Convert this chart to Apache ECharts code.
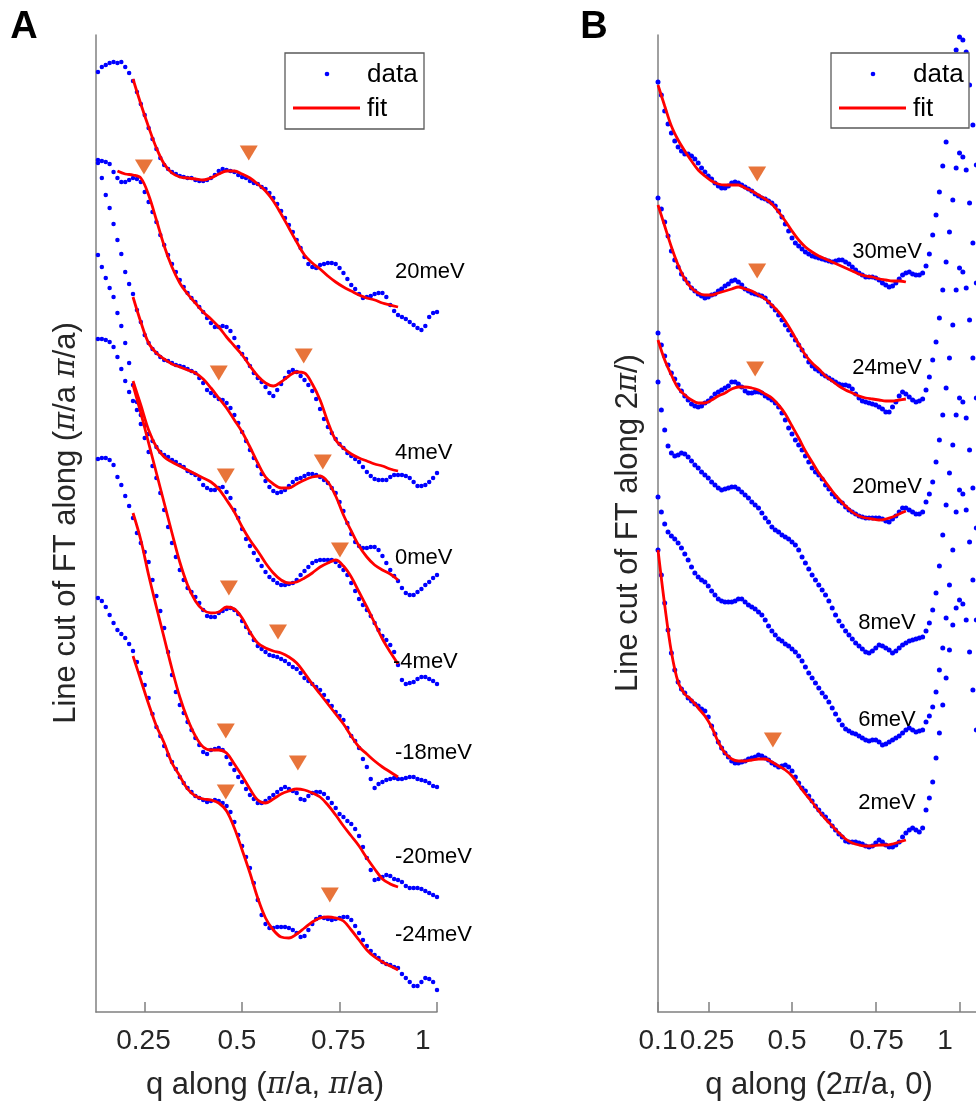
<!DOCTYPE html>
<html>
<head>
<meta charset="utf-8">
<script src="https://cdn.jsdelivr.net/npm/echarts@6/dist/echarts.min.js"></script>
<style>
html, body { margin: 0; padding: 0; background: #fff; }
#chart { width: 976px; height: 1102px; }
</style>
</head>
<body>
<div id="chart"></div>
<script>
// ---- panel A : q along (pi/a, pi/a) ----
var qA = [0.13,0.14,0.15,0.16,0.17,0.18,0.19,0.20,0.21,0.22,0.23,0.24,0.25,0.26,0.27,0.28,0.29,0.30,0.31,0.32,
  0.33,0.34,0.35,0.36,0.37,0.38,0.39,0.40,0.41,0.42,0.43,0.44,0.45,0.46,0.47,0.48,0.49,0.50,0.51,0.52,
  0.53,0.54,0.55,0.56,0.57,0.58,0.59,0.60,0.61,0.62,0.63,0.64,0.65,0.66,0.67,0.68,0.69,0.70,0.71,0.72,
  0.73,0.74,0.75,0.76,0.77,0.78,0.79,0.80,0.81,0.82,0.83,0.84,0.85,0.86,0.87,0.88,0.89,0.90,0.91,0.92,
  0.93,0.94,0.95,0.96,0.97,0.98,0.99,1.00];

var dotA20 = [940,945,947,949,950,949,950,945,939,931, 920,908,897,884,873,863,854,847,843,840,
  838,836,835,834,834,832,831,831,832,834, 837,841,843,842,841,840,837,835,834,831,
  829,828,825,823,819,814,808,801,794,787, 780,772,764,755,748,745,744,747,748,749,
  749,748,744,739,733,727,723,718,714,715, 716,718,719,719,715,707,701,697,695,693,
  690,687,684,682,686,695,699,700];
var dotA4 = [852,851,850,848,840,834,830,830,832,834, 833,830,820,810,800,790,777,767,757,748,
  740,732,725,719,714,710,705,700,694,689, 685,685,686,685,681,674,665,658,653,646,
  639,634,630,625,619,616,622,628,634,640, 642,640,636,632,627,621,613,603,593,585,
  579,573,568,564,559,556,553,550,545,540, 536,533,532,532,532,535,537,537,537,536,
  534,530,526,526,527,530,534,539];
var dotA0 = [849,834,817,804,788,772,758,740,728,718, 702,690,677,669,663,659,655,652,651,649,
  647,646,645,643,641,639,634,629,622,619, 616,613,612,609,604,597,589,580,571,562,
  554,546,538,531,525,521,519,520,522,526, 530,533,534,536,538,538,537,535,532,529,
  524,519,510,501,489,478,470,466,464,464, 465,465,462,456,449,442,436,431,424,419,
  417,417,420,423,427,430,434,437];
var dotAm4 = [757,745,734,724,715,699,686,669,649,627, 610,597,587,578,571,565,560,557,555,552,
  550,547,545,541,539,537,533,527,524,522, 522,524,525,520,514,502,494,483,473,466,
  459,452,446,440,435,432,429,427,427,428, 429,432,437,441,445,449,451,452,452,452,
  452,450,446,442,437,429,421,413,407,402, 396,389,382,376,372,367,360,347,332,328,
  329,330,333,335,335,333,331,328];
var dotAm18 = [673,673,672,670,665,655,643,631,620,611, 602,588,574,560,546,534,519,502,485,469,
  455,442,432,424,420,415,409,402,396,395, 395,399,401,403,404,402,398,391,385,379,
  372,366,363,360,357,356,355,353,351,348, 345,343,339,334,331,328,325,322,317,311,
  306,300,296,292,284,276,271,264,253,245, 233,224,228,230,232,233,234,233,233,234,
  235,235,233,232,231,229,226,225];
var dotAm20 = [553,554,554,552,547,535,527,516,506,494, 479,469,460,450,432,416,401,384,360,337,
  320,307,299,290,282,274,267,260,258,262, 263,264,262,255,248,242,235,230,223,217,
  213,209,209,211,214,217,220,223,225,223, 221,219,213,212,216,219,220,220,218,214,
  209,204,198,195,191,188,183,176,165,154, 142,132,133,135,137,136,133,132,130,126,
  124,124,124,123,121,119,117,115];
var dotAm24 = [414,411,405,397,389,382,378,374,368,361, 350,339,327,314,298,285,276,266,257,250,
  243,235,229,224,220,216,214,212,210,211, 212,211,209,206,200,190,177,166,155,144,
  129,112,97,88,84,84,85,85,85,84, 82,79,75,76,82,88,93,95,94,93,
  92,93,94,95,95,92,86,79,72,66, 61,57,54,50,48,47,45,44,38,34,
  30,26,26,30,34,33,30,22];

var qFitA = [0.16,0.18,0.20,0.22,0.24,0.26,0.28,0.30,0.32,0.34,0.36,0.38,0.40,0.42,0.44,0.46,0.48,0.50,0.52,
  0.54,0.56,0.58,0.60,0.62,0.64,0.66,0.68,0.70,0.72,0.74,0.76,0.78,0.80,0.82,0.84,0.86,0.88,0.90];
var fitA20 = [null,null,null,933,908,885,864,848,839,835,834,833,832,834,838,841,841,838,834,828,821,811,798,
  784,770,757,749,743,736,730,725,721,717,714,712,709,707,705];
var fitA4 = [null,841,838,837,834,817,792,766,745,729,718,709,700,693,685,675,666,657,646,636,629,626,630,
  636,640,639,628,612,590,572,564,558,554,551,548,546,543,541];
var fitA0 = [null,null,null,715,690,669,659,653,648,645,642,639,633,624,614,604,592,580,565,549,535,528,524,
  524,528,532,535,536,530,516,497,481,466,455,447,442,438,432];
var fitAm4 = [null,null,null,631,607,582,565,555,550,546,542,538,534,530,523,512,500,485,472,461,449,439,432,
  429,430,434,439,445,449,452,446,435,420,405,389,373,360,348];
var fitAm18 = [null,null,null,627,599,569,539,509,479,450,427,411,402,399,400,405,403,394,380,369,364,361,359,
  355,349,339,328,318,308,298,288,276,265,258,251,245,240,235];
var fitAm20 = [null,null,null,499,472,437,405,374,343,315,293,276,265,262,262,259,248,236,223,212,209,213,218,
  221,223,222,219,215,207,197,186,176,166,154,143,133,128,125];
var fitAm24 = [null,null,null,356,332,308,286,269,249,236,223,216,213,212,209,201,184,162,139,114,94,82,75,
  74,78,84,90,94,95,94,91,82,72,62,55,50,46,42];

var peakA = [[0.248,845],[0.517,859],[0.658,656],[0.440,639],[0.707,550],[0.458,536],[0.751,462],
  [0.466,424],[0.592,380],[0.458,281],[0.643,249],[0.458,220],[0.725,117]];
var namesA = ['20meV','4meV','0meV','-4meV','-18meV','-20meV','-24meV'];
var ticksA = [0.25, 0.5, 0.75, 1];
var tickTextA = ['0.25','0.5','0.75','1'];

// ---- panel B : q along (2pi/a, 0) ----
var qB = [0.10,0.11,0.12,0.13,0.14,0.15,0.16,0.17,0.18,0.19,0.20,0.21,0.22,0.23,0.24,0.25,0.26,0.27,0.28,0.29,
  0.30,0.31,0.32,0.33,0.34,0.35,0.36,0.37,0.38,0.39,0.40,0.41,0.42,0.43,0.44,0.45,0.46,0.47,0.48,0.49,
  0.50,0.51,0.52,0.53,0.54,0.55,0.56,0.57,0.58,0.59,0.60,0.61,0.62,0.63,0.64,0.65,0.66,0.67,0.68,0.69,
  0.70,0.71,0.72,0.73,0.74,0.75,0.76,0.77,0.78,0.79,0.80,0.81,0.82,0.83,0.84,0.85,0.86,0.87,0.88,0.89,
  0.90,0.91,0.92,0.93,0.94,0.95,0.96,0.97,0.98,0.99,1.00,1.01,1.02,1.03,1.04,1.05];

var dotB30 = [930,917,901,888,879,871,865,861,858,858, 856,853,849,844,840,836,833,829,826,824,
  824,826,829,830,829,827,825,823,821,818, 816,814,813,811,809,806,801,795,788,781,
  774,769,766,763,760,758,756,755,754,753, 752,751,750,751,752,752,750,748,745,742,
  739,737,735,735,735,734,732,729,727,725, 726,729,733,737,739,740,738,737,737,739,
  746,758,777,797,820,846,870,900,930,962, 975,972,960,927,887,847];
var dotB24 = [814,803,790,776,761,752,745,738,733,729, 724,721,718,716,714,715,717,718,721,723,
  726,728,731,732,730,727,723,721,719,718, 717,716,714,710,706,702,697,692,687,682,
  677,672,667,662,656,650,646,643,641,638, 636,634,632,630,628,627,627,626,623,618,
  614,611,610,609,608,607,605,603,600,600, 605,610,616,620,618,615,612,610,611,613,
  622,635,652,670,694,722,750,780,812,844, 859,855,842,809,769,729];
var dotB20 = [679,667,656,647,639,633,627,621,616,612, 608,606,605,606,609,611,614,618,620,622,
  624,626,630,630,628,625,621,619,619,620, 620,619,616,614,612,609,605,599,592,584,
  578,572,567,562,556,550,544,540,537,533, 527,523,518,515,511,509,505,502,500,498,
  496,495,494,494,494,494,494,493,491,490, 493,496,500,504,504,502,500,498,498,500,
  510,518,530,550,572,597,624,654,687,722, 744,740,724,692,654,614];
var dotB8 = [630,602,582,566,559,556,557,559,558,555, 551,547,544,540,537,534,530,527,524,522,
  523,524,525,525,523,520,517,514,510,507, 504,499,494,490,485,482,480,477,475,473,
  470,467,462,455,449,443,437,432,427,422, 417,411,404,397,391,386,381,377,373,369,
  366,363,360,359,361,364,367,366,364,362, 359,361,364,367,369,371,372,373,374,375,
  381,389,402,419,446,477,507,539,567,597, 614,610,594,562,524,484];
var dotB6 = [515,500,488,480,476,473,469,464,458,452, 445,439,435,432,430,426,421,417,413,411,
  410,410,410,411,413,413,410,407,405,403, 400,397,392,386,381,377,373,371,368,366,
  363,360,356,351,345,339,334,329,324,319, 315,310,304,298,292,287,283,281,279,278,
  276,274,272,271,272,272,270,267,268,270, 272,274,276,279,282,284,282,280,281,282,
  290,296,305,320,342,364,394,427,462,500, 522,518,502,470,432,392];
var dotB2 = [462,437,409,382,359,342,330,323,319,314, 311,308,306,303,301,295,286,278,270,264,
  259,255,251,249,249,250,251,253,254,255, 257,256,254,252,249,247,245,246,247,245,
  241,235,229,224,221,216,211,206,202,198, 195,191,186,182,178,175,171,170,170,170,
  169,168,166,165,166,169,172,170,167,165, 165,167,170,175,179,182,184,182,180,184,
  202,214,230,254,279,307,334,362,387,404, 412,408,392,360,322,282];

var qFitB = [0.10,0.12,0.14,0.16,0.18,0.20,0.22,0.24,0.26,0.28,0.30,0.32,0.34,0.36,0.38,0.40,0.42,0.44,0.46,
  0.48,0.50,0.52,0.54,0.56,0.58,0.60,0.62,0.64,0.66,0.68,0.70,0.72,0.74,0.76,0.78,0.80,0.82,0.84];
var fitB30 = [927,906,886,872,861,851,842,836,831,828,827,827,827,824,821,817,813,808,800,791,
  781,772,765,760,756,753,750,747,744,741,738,736,735,733,732,731,731,730];
var fitB24 = [807,786,765,747,733,724,719,717,717,719,721,723,725,723,721,717,713,707,700,691,
  680,668,657,649,643,636,631,626,622,619,616,614,613,612,611,611,612,613];
var fitB20 = [672,652,637,624,617,612,609,609,612,616,619,623,625,625,624,622,618,614,607,598,
  586,574,561,550,539,530,521,513,506,500,496,494,493,492,493,495,498,501];
var fitB2 = [462,407,360,330,318,312,304,296,285,270,259,253,251,251,252,253,253,250,246,242,
  236,227,218,210,201,193,186,179,173,169,167,166,166,167,167,168,170,172];

var peakB = [[0.396,838],[0.396,741],[0.390,643],[0.443,272]];
var namesB = ['30meV','24meV','20meV','8meV','6meV','2meV'];
var ticksB = [0.1, 0.25, 0.5, 0.75, 1];
var tickTextB = ['0.1','0.25','0.5','0.75','1'];

// label anchors (the original figure sets its tick labels a little left of the ticks)
var labelAtA = [0.2468, 0.4865, 0.7468, 0.9635];
var labelAtB = [0.1, 0.2463, 0.4851, 0.7522, 0.9567];

var FONT = '"Liberation Sans", Arial, Helvetica, sans-serif';
var BLUE = '#0000ff', RED = '#ff0000', ORANGE = '#e8743a', AXIS = '#808080', INK = '#262626';

function pairs(qs, ys) {
  var out = [];
  for (var i = 0; i < qs.length; i++) {
    if (ys[i] != null) out.push([qs[i], ys[i]]);
  }
  return out;
}

function tickText(v, at, texts) {
  var best = 0;
  for (var i = 1; i < at.length; i++) {
    if (Math.abs(at[i] - v) < Math.abs(at[best] - v)) best = i;
  }
  return texts[best];
}

function dots(idx, qs, ys, size) {
  return { type: 'scatter', xAxisIndex: idx, yAxisIndex: idx, data: pairs(qs, ys),
    symbolSize: size, itemStyle: { color: BLUE, opacity: 1 }, z: 2, silent: true };
}
function fit(idx, qs, ys) {
  return { type: 'line', xAxisIndex: idx, yAxisIndex: idx, data: pairs(qs, ys), smooth: 0.35,
    showSymbol: false, lineStyle: { color: RED, width: 2.8 }, z: 3, silent: true };
}
function peaks(idx, data) {
  return { type: 'scatter', xAxisIndex: idx, yAxisIndex: idx, data: data, symbol: 'triangle',
    symbolRotate: 180, symbolSize: [18, 15], itemStyle: { color: ORANGE, opacity: 1 }, z: 4, silent: true };
}

function xAxisOf(idx, min, max, ticks, labelAt, texts) {
  return {
    gridIndex: idx, type: 'value', min: min, max: max,
    axisLine: { show: true, onZero: false, lineStyle: { color: AXIS, width: 1.5 } },
    axisTick: { show: true, inside: true, length: 10, customValues: ticks, lineStyle: { color: AXIS, width: 1.5 } },
    axisLabel: { show: true, customValues: labelAt, margin: 15, color: INK, fontSize: 28, fontFamily: FONT,
      formatter: function (v) { return tickText(v, labelAt, texts); } },
    splitLine: { show: false }
  };
}
function yAxisOf(idx) {
  return {
    gridIndex: idx, type: 'value', min: 0, max: 977,
    axisLine: { show: true, onZero: false, lineStyle: { color: AXIS, width: 1.5 } },
    axisTick: { show: false }, axisLabel: { show: false }, splitLine: { show: false }
  };
}

function txt(x, y, text, size, opts) {
  opts = opts || {};
  return {
    type: 'text', x: x, y: y, z: 100, rotation: opts.rotation || 0,
    style: {
      text: text, fontSize: size, fontFamily: FONT, fontWeight: opts.weight || 'normal',
      fill: opts.color || '#000', align: opts.align || 'center', verticalAlign: 'middle',
      textAlign: opts.align || 'center', textVerticalAlign: 'middle', rich: opts.rich
    }
  };
}

function legendBox(x, y, w, h) {
  return [
    { type: 'rect', x: x, y: y, z: 100, shape: { x: 0, y: 0, width: w, height: h },
      style: { fill: '#fff', stroke: '#5a5a5a', lineWidth: 1.3 } },
    { type: 'circle', x: x + 42, y: y + 21, z: 101, shape: { cx: 0, cy: 0, r: 2.3 }, style: { fill: BLUE } },
    { type: 'line', z: 101, shape: { x1: x + 8, y1: y + 55, x2: x + 75, y2: y + 55 }, style: { stroke: RED, lineWidth: 2.8 } },
    txt(x + 82, y + 22, 'data', 26, { align: 'left' }),
    txt(x + 82, y + 56, 'fit', 26, { align: 'left' })
  ];
}

var piRich = { p: { fontStyle: 'italic', fontFamily: '"DejaVu Serif", serif', fontSize: 29, fill: INK } };

var labelYA = [272, 453, 558, 662, 753, 857, 935];
var labelYB = [252, 368, 487, 623, 720, 803];

var graphics = [];
graphics.push(txt(24, 28, 'A', 38, { weight: 'bold' }));
graphics.push(txt(594, 28, 'B', 38, { weight: 'bold' }));
graphics.push(txt(66, 523, 'Line cut of FT along ({p|\u03c0}/a {p|\u03c0}/a)', 31,
  { rotation: Math.PI / 2, color: INK, rich: piRich }));
graphics.push(txt(628, 523, 'Line cut of FT along 2{p|\u03c0}/)', 31,
  { rotation: Math.PI / 2, color: INK, rich: piRich }));
graphics.push(txt(265, 1085, 'q along ({p|\u03c0}/a, {p|\u03c0}/a)', 31, { color: INK, rich: piRich }));
graphics.push(txt(819, 1085, 'q along (2{p|\u03c0}/a, 0)', 31, { color: INK, rich: piRich }));
namesA.forEach(function (n, i) {
  graphics.push(txt(n === '-4meV' ? 393 : 395, labelYA[i], n, 22, { align: 'left' }));
});
namesB.forEach(function (n, i) {
  graphics.push(txt(887, labelYB[i], n, 22));
});
graphics = graphics.concat(legendBox(285, 53, 139, 76), legendBox(831, 53, 138, 75));

var series = [];
[dotA20, dotA4, dotA0, dotAm4, dotAm18, dotAm20, dotAm24].forEach(function (d) { series.push(dots(0, qA, d, 4.5)); });
[fitA20, fitA4, fitA0, fitAm4, fitAm18, fitAm20, fitAm24].forEach(function (d) { series.push(fit(0, qFitA, d)); });
series.push(peaks(0, peakA));
[dotB30, dotB24, dotB20, dotB8, dotB6, dotB2].forEach(function (d) { series.push(dots(1, qB, d, 5)); });
[fitB30, fitB24, fitB20, fitB2].forEach(function (d) { series.push(fit(1, qFitB, d)); });
series.push(peaks(1, peakB));

var chart = echarts.init(document.getElementById('chart'), null, { renderer: 'canvas' });
chart.setOption({
  animation: false,
  backgroundColor: '#fff',
  grid: [
    { left: 96, top: 35, width: 341, height: 977, containLabel: false, outerBoundsMode: 'none' },
    { left: 658, top: 35, width: 335, height: 977, containLabel: false, outerBoundsMode: 'none' }
  ],
  xAxis: [
    xAxisOf(0, 0.125, 1.0, ticksA, labelAtA, tickTextA),
    xAxisOf(1, 0.1, 1.1, ticksB, labelAtB, tickTextB)
  ],
  yAxis: [yAxisOf(0), yAxisOf(1)],
  series: series,
  graphic: { elements: graphics }
});
</script>
</body>
</html>
